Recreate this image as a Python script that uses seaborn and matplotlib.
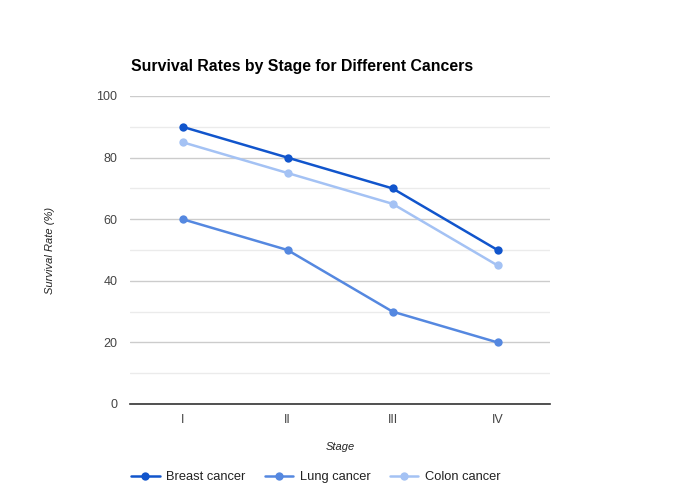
import matplotlib
matplotlib.use("Agg")
import matplotlib.pyplot as plt
import seaborn as sns
import pandas as pd

stages = ["I", "II", "III", "IV"]
breast = [90, 80, 70, 50]
lung = [60, 50, 30, 20]
colon = [85, 75, 65, 45]
series_names = ["Breast cancer", "Lung cancer", "Colon cancer"]
colors = ["#1155cc", "#5588e0", "#a4c2f4"]

df = pd.DataFrame({
    "Stage": stages * 3,
    "x": list(range(len(stages))) * 3,
    "Rate": breast + lung + colon,
    "Cancer": [n for n in series_names for _ in stages],
})

sns.set_style("white")
plt.rcParams["font.family"] = ["Liberation Sans", "DejaVu Sans"]

fig = plt.figure(figsize=(6.8, 5.0), dpi=100)
ax = fig.add_axes([130 / 680, 96 / 500, 420 / 680, 308 / 500])

for name, col in zip(series_names, colors):
    sub = df[df["Cancer"] == name]
    sns.lineplot(data=sub, x="x", y="Rate", color=col, marker="o", markersize=6,
                 markeredgewidth=0, linewidth=1.8, ax=ax, label=name)

ax.set_xlim(-0.5, 3.5)
ax.set_ylim(0, 100)
ax.set_xticks(range(len(stages)))
ax.set_xticklabels(stages)
ax.set_yticks([0, 20, 40, 60, 80, 100])
ax.set_yticks([10, 30, 50, 70, 90], minor=True)
ax.grid(axis="y", which="major", color="#cccccc", linewidth=1)
ax.grid(axis="y", which="minor", color="#ebebeb", linewidth=1)
ax.set_axisbelow(True)
for s in ["top", "right", "left"]:
    ax.spines[s].set_visible(False)
ax.spines["bottom"].set_color("#333333")
ax.spines["bottom"].set_linewidth(1.2)
ax.tick_params(axis="both", which="both", length=0, labelsize=9, colors="#444444")
ax.tick_params(axis="x", pad=7)
ax.tick_params(axis="y", pad=9)

ax.set_xlabel("Stage", fontsize=8, style="italic", color="#222222", labelpad=12)
ax.set_ylabel("Survival Rate (%)", fontsize=8, style="italic", color="#222222", labelpad=30)

fig.text(131 / 680, 1 - 66 / 500, "Survival Rates by Stage for Different Cancers",
         fontsize=11.4, fontweight="bold", color="#000000", va="center", ha="left")

ax.legend(loc="upper left", bbox_to_anchor=(-0.025, -0.18), ncol=3, frameon=False,
          fontsize=9.3, handlelength=2.2, handletextpad=0.5, columnspacing=1.5,
          labelcolor="#222222")

fig.savefig("out.png", dpi=100)
